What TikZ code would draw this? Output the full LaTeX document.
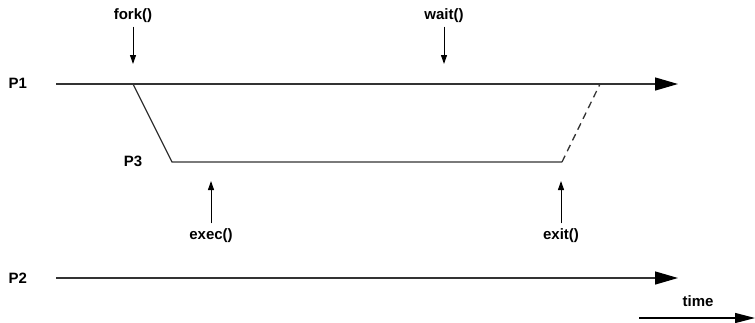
\documentclass[tikz,border=0pt]{standalone}
\usepackage{fontspec}
\setmainfont{Liberation Sans}
\usetikzlibrary{arrows.meta}

\begin{document}
\begin{tikzpicture}[x=1pt, y=-1pt, line width=1.3pt,
    lbl/.style={font=\fontsize{15}{17}\selectfont\bfseries, inner sep=0pt},
    bigarr/.style={-{Triangle[length=23pt,width=13pt,color=black]}},
    smallarr/.style={-{Triangle[length=9pt,width=6pt]}, line width=1pt}]
  \useasboundingbox (0,0) rectangle (755,322);
  % processos
  \node[lbl, anchor=west] (p1) at (8,83) {P1};
  \node[lbl, anchor=west] (p2) at (8,278) {P2};
  \node[lbl] (p3) at (133,161) {P3};
  \coordinate (p1a) at (56,84);
  \coordinate (p1b) at (678,84);
  \coordinate (p2a) at (56,278);
  \coordinate (p2b) at (678,278);
  \coordinate (fk) at (133,84);
  \coordinate (st) at (172,162);
  \coordinate (en) at (562,162);
  \coordinate (jn) at (600,84);
  \draw[bigarr, draw=black!80] (p1a) -- (p1b);
  \draw[bigarr, draw=black!80] (p2a) -- (p2b);
  \draw[draw=black!80] (fk) -- (st) -- (en);
  \draw[dashed, dash pattern=on 7pt off 5pt, draw=black!80] (en) -- (jn);
  % chamadas
  \node[lbl] (fork) at (133,16) {fork()};
  \node[lbl] (wait) at (444,16) {wait()};
  \node[lbl] (exec) at (211,236) {exec()};
  \node[lbl] (exit) at (561,236) {exit()};
  \draw[smallarr] (fork.south) ++(0,3) -- (133,64);
  \draw[smallarr] (wait.south) ++(0,3) -- (444,64);
  \draw[smallarr] (exec.north) ++(0,-5) -- (211,181);
  \draw[smallarr] (exit.north) ++(0,-5) -- (561,181);
  % tempo
  \node[lbl] (time) at (698,301) {time};
  \coordinate (ta) at (639,318);
  \coordinate (tb) at (755,318);
  \draw[-{Triangle[length=20pt,width=10pt]}] (ta) -- (tb);
\end{tikzpicture}
\end{document}
